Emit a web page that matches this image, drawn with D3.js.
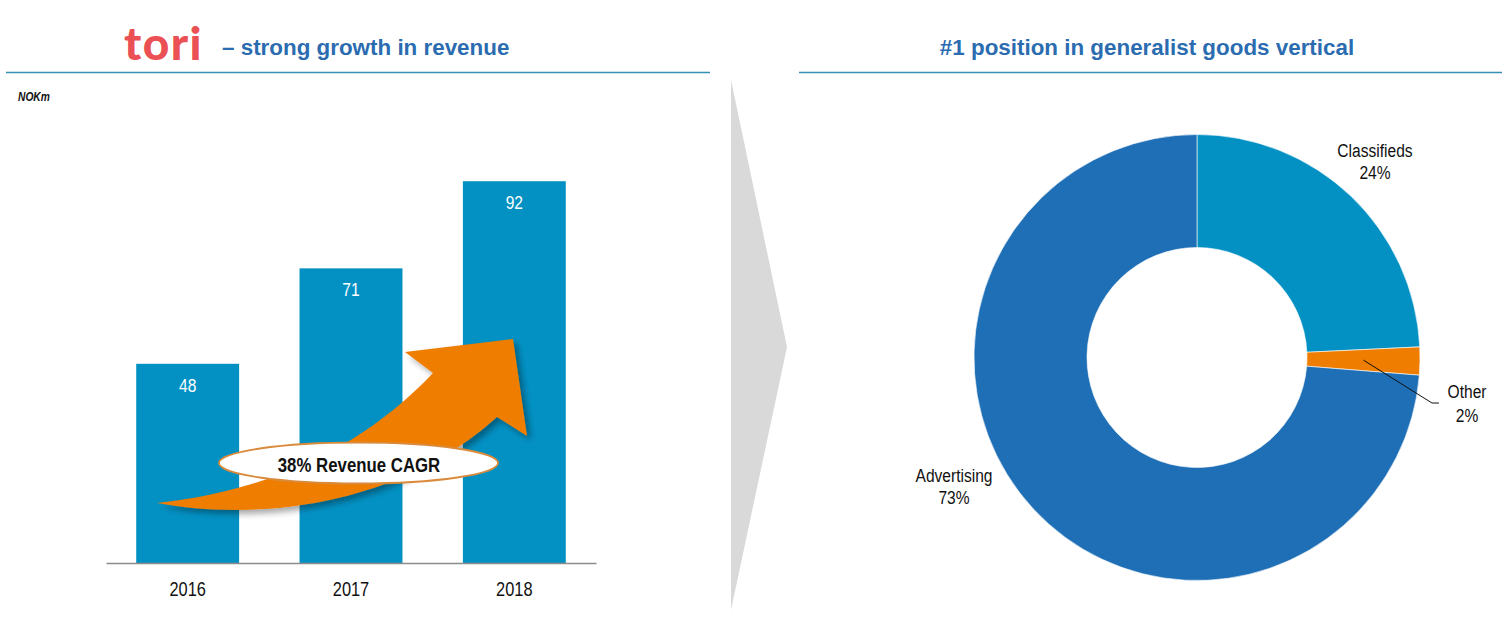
<!DOCTYPE html>
<html>
<head>
<meta charset="utf-8">
<script src="https://cdn.jsdelivr.net/npm/d3@7"></script>
<style>
  html, body { margin: 0; padding: 0; background: #fff; }
  svg { display: block; }
  text { font-family: "Liberation Sans", Arial, sans-serif; }
</style>
</head>
<body>
<svg id="chart" width="1509" height="628"></svg>
<script>
// ---------- data ----------
const years = ["2016", "2017", "2018"];
const revenue = [48, 71, 92];
const unitLabel = "NOKm";
const cagrLabel = "38% Revenue CAGR";
const leftTitle = "– strong growth in revenue";
const logoText = "tori";
const rightTitle = "#1 position in generalist goods vertical";
const segments = ["Classifieds", "Other", "Advertising"];
const shares = [24, 2, 73];

// ---------- styles ----------
const barColor = "#0391c4";
const segColors = { "Classifieds": "#0391c4", "Other": "#ef7d00", "Advertising": "#1f6fb6" };
const titleBlue = "#2b6cb0";
const ruleColor = "#3a8fb5";

const svg = d3.select("#chart");

// ---------- narrow font helper (Arial Narrow look: condensed Liberation Sans) ----------
const SQ = 0.82;
function narrowText(parent, x, y, str, size, opts = {}) {
  const g = parent.append("g").attr("transform", `translate(${x},${y}) scale(${SQ},1)`);
  return g.append("text")
    .attr("text-anchor", opts.anchor || "middle")
    .style("font-family", "'Liberation Sans', Arial, sans-serif")
    .style("font-size", size + "px")
    .style("font-weight", opts.weight || "normal")
    .style("font-style", opts.style || "normal")
    .attr("fill", opts.fill || "#111")
    .text(str);
}

// ---------- headers ----------
svg.append("text").attr("x", 124).attr("y", 60)
  .style("font-family", "Lato, 'Noto Sans', sans-serif").style("font-weight", 900)
  .style("font-size", "46px").style("letter-spacing", "1.5px")
  .attr("fill", "#eb5055").text(logoText);
svg.append("text").attr("x", 222).attr("y", 55)
  .style("font-weight", "bold").style("font-size", "22.4px").attr("fill", titleBlue).text(leftTitle);
svg.append("text").attr("x", 1147).attr("y", 55).attr("text-anchor", "middle")
  .style("font-weight", "bold").style("font-size", "22.4px").attr("fill", titleBlue).text(rightTitle);
svg.append("line").attr("x1", 6).attr("x2", 710).attr("y1", 72.5).attr("y2", 72.5)
  .attr("stroke", ruleColor).attr("stroke-width", 1.5);
svg.append("line").attr("x1", 799).attr("x2", 1502).attr("y1", 72.5).attr("y2", 72.5)
  .attr("stroke", ruleColor).attr("stroke-width", 1.5);

narrowText(svg, 18, 101, unitLabel, 12.5, { anchor: "start", weight: "bold", style: "italic" });

// ---------- chevron ----------
svg.append("path").attr("d", "M731,80 L787,347 L731,610 Z").attr("fill", "#d9d9d9");

// ---------- bar chart ----------
const x = d3.scaleBand().domain(years).range([106, 596]).paddingInner(0.37).paddingOuter(0.185);
const y = d3.scaleLinear().domain([0, 100]).range([563, 148]);

const bars = svg.append("g");
bars.selectAll("rect").data(revenue).join("rect")
  .attr("x", (d, i) => x(years[i]))
  .attr("width", x.bandwidth())
  .attr("y", d => y(d))
  .attr("height", d => y(0) - y(d))
  .attr("fill", barColor);
revenue.forEach((d, i) => {
  narrowText(bars, x(years[i]) + x.bandwidth() / 2, y(d) + 28, String(d), 19, { fill: "#fff" });
});

const xAxis = svg.append("g").attr("transform", `translate(0,${y(0)})`)
  .call(d3.axisBottom(x).tickSize(0).tickFormat(""));
xAxis.select(".domain").attr("stroke", "#8c8c8c").attr("stroke-width", 1.3);
years.forEach(yr => {
  narrowText(svg, x(yr) + x.bandwidth() / 2, 596, yr, 20);
});

// ---------- CAGR arrow ----------
const defs = svg.append("defs");
const f = defs.append("filter").attr("id", "shadow").attr("x", "-20%").attr("y", "-20%")
  .attr("width", "150%").attr("height", "150%");
f.append("feDropShadow").attr("dx", 4).attr("dy", 4).attr("stdDeviation", 3)
  .attr("flood-color", "#000").attr("flood-opacity", 0.35);

svg.append("path")
  .attr("d", "M157,503 C260,522 400,505 497,417 L527,436 L513,339 L405,352 L433,373 C370,440 280,490 157,503 Z")
  .attr("fill", "#ef7d00").attr("filter", "url(#shadow)");

svg.append("ellipse").attr("cx", 358.5).attr("cy", 463).attr("rx", 139.5).attr("ry", 20.5)
  .attr("fill", "#fff").attr("stroke", "#d98a3a").attr("stroke-width", 1.8);
narrowText(svg, 359, 471.5, cagrLabel, 20.5, { weight: "bold" });

// ---------- donut ----------
const cx = 1197, cy = 357.5;
const pie = d3.pie().sort(null).value(d => d.v);
const arcs = pie(segments.map((s, i) => ({ name: s, v: shares[i] })));
const arc = d3.arc().innerRadius(110).outerRadius(223);
const donut = svg.append("g").attr("transform", `translate(${cx},${cy})`);
donut.selectAll("path").data(arcs).join("path")
  .attr("d", arc)
  .attr("fill", d => segColors[d.data.name])
  .attr("stroke", "#fff").attr("stroke-width", 0.6);

// labels (offsets from the donut centre)
const labelPos = {
  "Classifieds": [178, -201, 22],
  "Other": [270, 40.5, 24],
  "Advertising": [-243, 124.5, 22]
};
arcs.forEach(d => {
  const [dx, dy, lh] = labelPos[d.data.name];
  narrowText(donut, dx, dy, d.data.name, 19);
  narrowText(donut, dx, dy + lh, d.data.v + "%", 19);
  if (d.data.name === "Other") {
    const c = arc.centroid(d);
    donut.append("polyline")
      .attr("points", [[c[0], c[1]], [235, 45.5], [242, 45.5]].map(p => p.join(",")).join(" "))
      .attr("fill", "none").attr("stroke", "#111").attr("stroke-width", 1);
  }
});
</script>
</body>
</html>
